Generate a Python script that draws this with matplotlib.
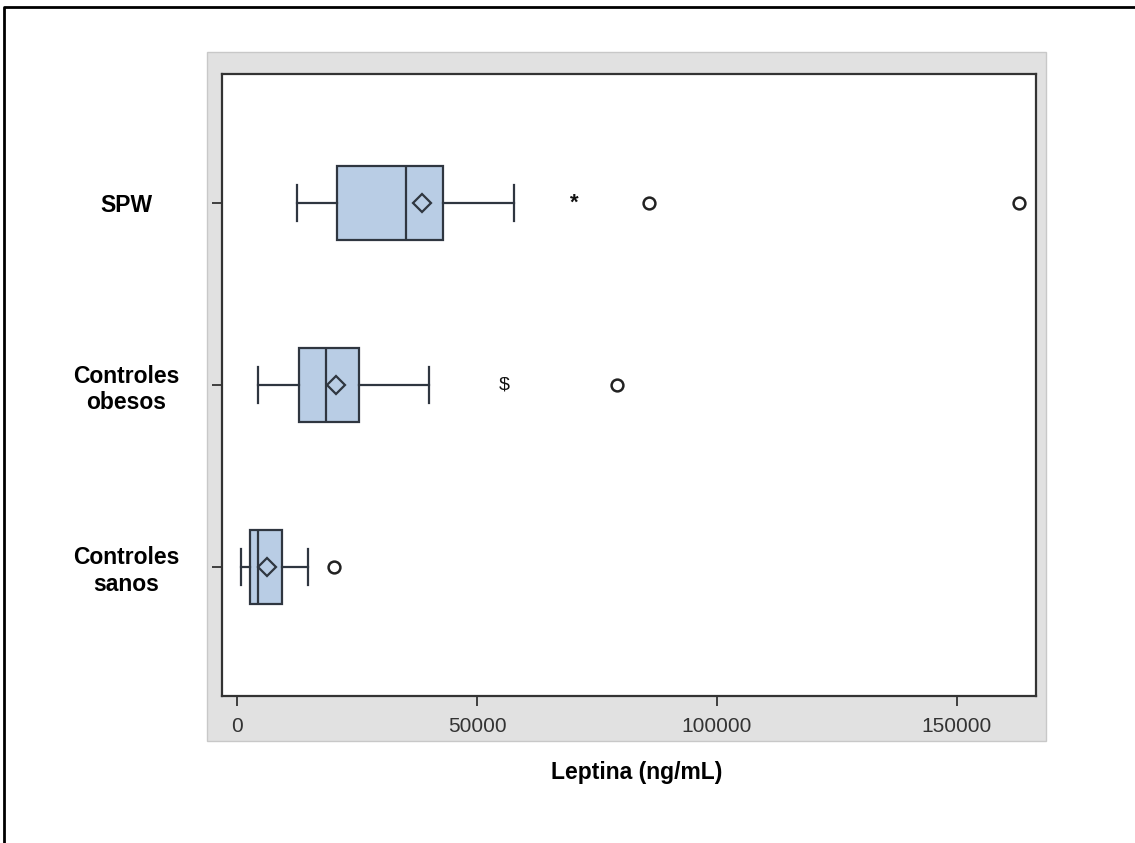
import matplotlib.pyplot as plt
from matplotlib.patches import Rectangle
from matplotlib.lines import Line2D

plt.rcParams['font.family'] = ['Liberation Sans', 'DejaVu Sans']

# groups, bottom to top
groups = ['Controles\nsanos', 'Controles\nobesos', 'SPW']
positions = [1, 2, 3]

# box statistics (ng/mL)
whislo = [830, 4360, 12450]
q1 = [2700, 12860, 20750]
med = [4360, 18460, 35270]
q3 = [9340, 25520, 42950]
whishi = [14730, 40040, 57680]
means = [6220, 20540, 38600]
fliers = [[20120], [79250], [85900, 162860]]

# significance marks beside the boxes
mark_x = [55600, 70300]
mark_y = [2, 3]
mark_txt = ['$', '*']

xticks = [0, 50000, 100000, 150000]

fig = plt.figure(figsize=(11.35, 8.43), dpi=100)

# grey panel behind the axes
fig.patches.append(Rectangle((207 / 1135, 102 / 843), 839 / 1135, 689 / 843,
                             transform=fig.transFigure, facecolor='#e1e1e1',
                             edgecolor='#c8c8c8', lw=1, zorder=-1))
# outer frame (left and top)
fig.lines.append(Line2D([4 / 1135, 4 / 1135, 1.0], [0.0, 1 - 7 / 843, 1 - 7 / 843],
                        transform=fig.transFigure, color='black', lw=2))

ax = fig.add_axes([222 / 1135, 147 / 843, 814 / 1135, 622 / 843])

stats = []
for i in range(len(groups)):
    stats.append(dict(whislo=whislo[i], q1=q1[i], med=med[i], q3=q3[i],
                      whishi=whishi[i], mean=means[i], fliers=fliers[i]))

edge = '#2f3640'
ax.bxp(stats, positions=positions, vert=False, widths=0.407, patch_artist=True,
       showmeans=True,
       boxprops=dict(facecolor='#b9cde5', edgecolor=edge, lw=1.6),
       medianprops=dict(color=edge, lw=1.6),
       whiskerprops=dict(color=edge, lw=1.6),
       capprops=dict(color=edge, lw=1.6),
       capwidths=0.2,
       meanprops=dict(marker='D', markersize=9, markerfacecolor='none',
                      markeredgecolor=edge, markeredgewidth=1.6),
       flierprops=dict(marker='o', markersize=8.5, markerfacecolor='none',
                       markeredgecolor='#222222', markeredgewidth=1.8))

for x, y, t in zip(mark_x, mark_y, mark_txt):
    ax.text(x, y, t, ha='center', va='center', fontsize=16 if t == '*' else 14,
            fontweight='bold' if t == '*' else 'normal', color='#111111')

ax.set_xlim(-3125, 166460)
ax.set_ylim(0.291, 3.709)
ax.set_xticks(xticks)
ax.set_xticklabels([str(v) for v in xticks], fontsize=15, color='#333333')
ax.set_yticks(positions)
ax.set_yticklabels(groups, fontsize=16.5, fontweight='bold', ha='center',
                   multialignment='center')
ax.tick_params(axis='y', length=7, width=1.3, color='#333333', pad=62)
ax.tick_params(axis='x', length=7, width=1.3, color='#333333', pad=8)
for s in ax.spines.values():
    s.set_color('#333333')
    s.set_linewidth(1.6)

ax.set_xlabel('Leptina (ng/mL)', fontsize=16.5, fontweight='bold', labelpad=18)
ax.xaxis.label.set_x(0.51)

fig.savefig('out.png', dpi=100)
